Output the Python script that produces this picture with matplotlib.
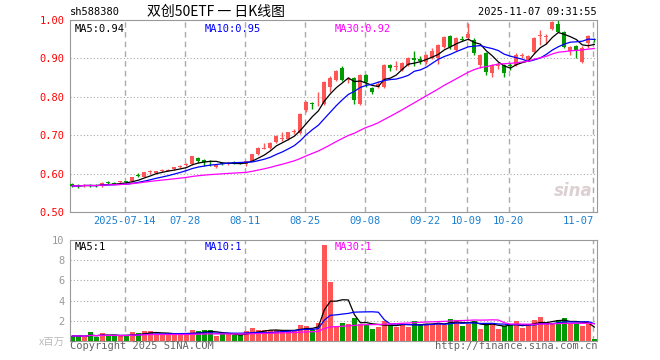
import matplotlib
matplotlib.use('Agg')
import matplotlib.pyplot as plt
import numpy as np
import pandas as pd

# daily K data 2025-07-01 .. 2025-11-07 (88 trading days)
opens = [0.574, 0.570, 0.568, 0.571, 0.570, 0.567, 0.577, 0.576, 0.577, 0.579,
         0.580, 0.596, 0.591, 0.603, 0.602, 0.607, 0.608, 0.611, 0.618, 0.622,
         0.624, 0.640, 0.636, 0.631, 0.617, 0.627, 0.626, 0.629, 0.628, 0.624,
         0.634, 0.650, 0.665, 0.667, 0.682, 0.689, 0.689, 0.709, 0.706, 0.765,
         0.784, 0.780, 0.782, 0.826, 0.845, 0.874, 0.843, 0.849, 0.782, 0.856,
         0.822, 0.826, 0.826, 0.884, 0.878, 0.870, 0.883, 0.900, 0.899, 0.891,
         0.902, 0.900, 0.930, 0.958, 0.922, 0.951, 0.952, 0.948, 0.883, 0.913,
         0.861, 0.879, 0.883, 0.881, 0.884, 0.905, 0.895, 0.917, 0.958, 0.955,
         0.977, 0.990, 0.969, 0.920, 0.931, 0.891, 0.940, 0.949]
highs = [0.576, 0.572, 0.573, 0.574, 0.572, 0.577, 0.580, 0.578, 0.582, 0.581,
         0.592, 0.602, 0.604, 0.609, 0.608, 0.611, 0.613, 0.617, 0.623, 0.627,
         0.646, 0.642, 0.638, 0.636, 0.625, 0.630, 0.630, 0.633, 0.631, 0.633,
         0.651, 0.668, 0.680, 0.681, 0.701, 0.708, 0.709, 0.716, 0.757, 0.790,
         0.787, 0.812, 0.841, 0.853, 0.870, 0.880, 0.852, 0.852, 0.860, 0.860,
         0.826, 0.840, 0.886, 0.886, 0.892, 0.890, 0.903, 0.918, 0.905, 0.912,
         0.928, 0.938, 0.958, 0.962, 0.955, 0.958, 0.991, 0.952, 0.912, 0.916,
         0.886, 0.890, 0.886, 0.888, 0.913, 0.913, 0.908, 0.956, 0.973, 0.964,
         0.998, 1.002, 0.971, 0.933, 0.934, 0.933, 0.961, 0.952]
lows = [0.566, 0.563, 0.566, 0.566, 0.564, 0.566, 0.572, 0.572, 0.574, 0.575,
        0.578, 0.590, 0.590, 0.600, 0.600, 0.604, 0.606, 0.609, 0.615, 0.619,
        0.622, 0.628, 0.619, 0.620, 0.614, 0.623, 0.623, 0.624, 0.624, 0.620,
        0.632, 0.648, 0.663, 0.665, 0.680, 0.686, 0.687, 0.704, 0.704, 0.760,
        0.768, 0.776, 0.778, 0.812, 0.840, 0.840, 0.836, 0.780, 0.778, 0.826,
        0.808, 0.822, 0.824, 0.866, 0.870, 0.866, 0.880, 0.880, 0.886, 0.886,
        0.898, 0.885, 0.926, 0.925, 0.918, 0.945, 0.948, 0.910, 0.875, 0.857,
        0.852, 0.872, 0.852, 0.871, 0.880, 0.900, 0.892, 0.915, 0.935, 0.937,
        0.975, 0.968, 0.928, 0.908, 0.900, 0.889, 0.926, 0.944]
closes = [0.568, 0.568, 0.571, 0.569, 0.568, 0.575, 0.575, 0.574, 0.578, 0.577,
          0.591, 0.594, 0.603, 0.605, 0.607, 0.608, 0.610, 0.616, 0.620, 0.624,
          0.645, 0.633, 0.629, 0.629, 0.623, 0.626, 0.628, 0.627, 0.626, 0.632,
          0.650, 0.667, 0.667, 0.680, 0.697, 0.691, 0.708, 0.711, 0.755, 0.787,
          0.781, 0.782, 0.839, 0.850, 0.867, 0.843, 0.847, 0.791, 0.858, 0.839,
          0.813, 0.833, 0.884, 0.874, 0.880, 0.887, 0.900, 0.897, 0.893, 0.909,
          0.918, 0.935, 0.956, 0.930, 0.952, 0.949, 0.963, 0.913, 0.909, 0.865,
          0.883, 0.884, 0.861, 0.880, 0.910, 0.910, 0.905, 0.954, 0.960, 0.957,
          0.996, 0.970, 0.930, 0.930, 0.920, 0.926, 0.959, 0.947]
# volume, millions
volumes = [0.5, 0.5, 0.4, 0.85, 0.4, 0.75, 0.5, 0.5, 0.55, 0.5,
           0.85, 0.75, 0.95, 0.95, 0.7, 0.65, 0.65, 0.65, 0.65, 0.65,
           1.05, 0.95, 1.05, 1.05, 0.45, 0.65, 0.65, 0.6, 0.6, 0.95,
           1.25, 1.05, 1.05, 1.05, 1.05, 1.05, 1.05, 1.05, 1.55, 1.45,
           1.15, 1.8, 9.5, 5.8, 1.49, 1.82, 1.72, 2.29, 1.72, 1.56,
           1.23, 1.39, 1.99, 1.62, 1.39, 1.72, 1.39, 1.99, 1.56, 1.72,
           1.72, 1.82, 1.62, 2.15, 2.06, 1.49, 1.72, 1.95, 1.16, 1.72,
           1.82, 1.16, 1.49, 1.72, 1.95, 1.26, 1.56, 2.06, 2.35, 1.82,
           1.82, 2.06, 2.25, 1.72, 1.82, 1.49, 1.72, 0.17]

date_pos = [9, 19, 29, 39, 49, 59, 66, 73, 87]
date_lbl = ['2025-07-14', '07-28', '08-11', '08-25', '09-08', '09-22', '10-09', '10-20', '11-07']

# legend texts as printed on the chart
price_ma_lbl = ['MA5:0.94', 'MA10:0.95', 'MA30:0.92']
vol_ma_lbl = ['MA5:1', 'MA10:1', 'MA30:1']

df = pd.DataFrame({'open': opens, 'high': highs, 'low': lows, 'close': closes, 'vol': volumes})
for n in (5, 10, 30):
    df[f'ma{n}'] = df['close'].rolling(n, min_periods=1).mean()
    df[f'vma{n}'] = df['vol'].rolling(n, min_periods=1).mean()

RED = '#ff5555'
GREEN = '#009a00'
GRID = '#aaaaaa'
MONO = 'DejaVu Sans Mono'
MA_COLORS = ['black', '#0000ff', '#ff00ff']
x = np.arange(len(df))
up = df['close'] >= df['open']
cols = np.where(up, RED, GREEN)

W, H = 660, 360
def box(l, t, r, b):
    return [l / W, 1 - b / H, (r - l) / W, (b - t) / H]

fig = plt.figure(figsize=(6.6, 3.6), dpi=100)
ax = fig.add_axes(box(70, 20, 597, 212))
axv = fig.add_axes(box(70, 240, 597, 341))

# price panel
for y in [0.6, 0.7, 0.8, 0.9]:
    ax.axhline(y, color=GRID, lw=0.8, linestyle=(0, (1, 2)), zorder=0)
for p in date_pos:
    ax.axvline(p - 0.3, color=GRID, lw=1, linestyle=(0, (4, 3)), zorder=0)
    axv.axvline(p - 0.3, color=GRID, lw=1, linestyle=(0, (4, 3)), zorder=0)

ax.vlines(x, df['low'], df['high'], color=cols, lw=1, zorder=2)
body = np.maximum((df['close'] - df['open']).abs(), 0.0025)
ax.bar(x, body, bottom=np.minimum(df['open'], df['close']), width=0.7, color=cols, lw=0, zorder=3)
for n, c in zip((5, 10, 30), MA_COLORS):
    ax.plot(x, df[f'ma{n}'], color=c, lw=0.9, zorder=4)

ax.set_xlim(-0.4, 87.45)
ax.set_ylim(0.5, 1.0)
ax.set_xticks([])
ax.set_yticks([0.5, 0.6, 0.7, 0.8, 0.9, 1.0])
ax.set_yticklabels(['0.50', '0.60', '0.70', '0.80', '0.90', '1.00'], fontfamily=MONO, fontsize=7.5)
ax.tick_params(axis='y', length=0, labelcolor='red', pad=4)
for s in ax.spines.values():
    s.set_color('#999999')

for p, lbl in zip(date_pos, date_lbl):
    ha = 'right' if p == date_pos[-1] else 'center'
    xx = p - 0.3 + (0.2 if ha == 'right' else 0)
    ax.text(xx, -0.045, lbl, transform=ax.get_xaxis_transform(), ha=ha, va='center',
            color='#1c7fd0', fontsize=7.5, fontfamily=MONO)

for lbl, c, px in zip(price_ma_lbl, MA_COLORS, (5, 135, 265)):
    ax.text(px / 527, 0.955, lbl, transform=ax.transAxes, color=c,
            fontsize=7.5, fontfamily=MONO, va='center')
ax.text(0.955, 0.11, 'sina', transform=ax.transAxes, color='#dcd0d2', fontsize=12,
        fontweight='bold', style='italic', ha='center', va='center', zorder=1)

# volume panel
for y in [2, 4, 6, 8]:
    axv.axhline(y, color=GRID, lw=0.8, linestyle=(0, (1, 2)), zorder=0)
axv.bar(x, df['vol'], width=0.8, color=cols, lw=0, zorder=2)
for n, c in zip((5, 10, 30), MA_COLORS):
    axv.plot(x, df[f'vma{n}'], color=c, lw=0.9, zorder=3)
axv.set_xlim(-0.4, 87.45)
axv.set_ylim(0, 10)
axv.set_xticks([])
axv.set_yticks([2, 4, 6, 8, 10])
axv.set_yticklabels(['2', '4', '6', '8', '10'], fontfamily=MONO, fontsize=7.5)
axv.tick_params(axis='y', length=0, labelcolor='#999999', pad=4)
for s in axv.spines.values():
    s.set_color('#999999')
for lbl, c, px in zip(vol_ma_lbl, MA_COLORS, (5, 135, 265)):
    axv.text(px / 527, 0.935, lbl, transform=axv.transAxes, color=c,
             fontsize=7.5, fontfamily=MONO, va='center')

# header / footer
fig.text(70 / W, 1 - 12 / H, 'sh588380', fontsize=7.5, fontfamily=MONO, va='center')
fig.text(216 / W, 1 - 12 / H, '双创50ETF 一 日K线图', fontsize=10,
         family=['Noto Sans CJK SC', 'DejaVu Sans'], ha='center', va='center')
fig.text(597 / W, 1 - 12 / H, '2025-11-07 09:31:55', fontsize=7.5, fontfamily=MONO, ha='right', va='center')
fig.text(65 / W, 1 - 342 / H, 'x百万', fontsize=7.5, color='#bbbbbb',
         family=['Noto Sans CJK SC', 'DejaVu Sans'], ha='right', va='center')
fig.text(70 / W, 1 - 346 / H, 'Copyright 2025 SINA.COM', fontsize=7.5, fontfamily=MONO,
         color='#666666', va='center')
fig.text(597 / W, 1 - 346 / H, 'http://finance.sina.com.cn', fontsize=7.5, fontfamily=MONO,
         color='#666666', ha='right', va='center')

fig.savefig('out.png', dpi=100)
